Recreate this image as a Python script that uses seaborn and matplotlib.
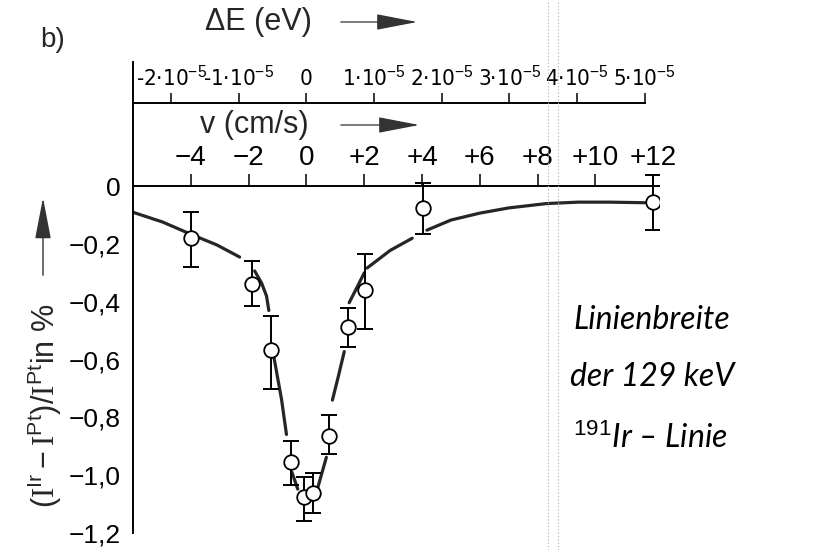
import numpy as np
import pandas as pd
import matplotlib
matplotlib.use("Agg")
import matplotlib.pyplot as plt
from matplotlib.patches import FancyArrowPatch
from matplotlib.lines import Line2D
import seaborn as sns

# Measured points: source velocity (cm/s) and relative intensity change (%)
velocity = [-4.0, -1.88, -1.22, -0.53, -0.08, 0.23, 0.79, 1.44, 2.03, 4.04, 12.0]
rel_change = [-0.18, -0.339, -0.567, -0.954, -1.075, -1.061, -0.864, -0.488, -0.36, -0.076, -0.055]
err_top = [-0.09, -0.259, -0.45, -0.882, -1.006, -0.992, -0.792, -0.422, -0.235, 0.01, 0.038]
err_bottom = [-0.28, -0.415, -0.702, -1.034, -1.158, -1.13, -0.927, -0.557, -0.494, -0.166, -0.152]

# Drawn line shape, broken into pieces around the data points
curve_seg = [0, 0, 0, 0, 0,
             1, 1, 1, 1,
             2, 2, 2,
             3, 3,
             4, 4,
             5, 5, 5,
             6, 6, 6,
             7, 7, 7,
             8, 8, 8, 8, 8, 8, 8, 8]
curve_v = [-6.0, -4.97, -3.93, -3.1, -2.31,
           -1.79, -1.55, -1.38, -1.3,
           -1.17, -0.86, -0.69,
           -0.5, -0.3,
           0.38, 0.69,
           0.9, 1.1, 1.31,
           1.48, 1.75, 2.0,
           2.1, 2.9, 3.66,
           4.17, 5.0, 6.0, 7.0, 8.3, 9.4, 10.5, 11.7]
curve_y = [-0.09, -0.124, -0.169, -0.203, -0.245,
           -0.293, -0.335, -0.38, -0.43,
           -0.566, -0.738, -0.859,
           -0.99, -1.048,
           -1.048, -0.938,
           -0.74, -0.66, -0.572,
           -0.403, -0.35, -0.30,
           -0.283, -0.222, -0.18,
           -0.152, -0.117, -0.093, -0.075, -0.06, -0.055, -0.055, -0.057]

# Axis ticks
v_ticks = [-4, -2, 0, 2, 4, 6, 8, 10, 12]
v_labels = ["\u22124", "\u22122", "0", "+2", "+4", "+6", "+8", "+10", "+12"]
y_ticks = [0, -0.2, -0.4, -0.6, -0.8, -1.0, -1.2]
y_labels = ["0", "\u22120,2", "\u22120,4", "\u22120,6", "\u22120,8", "\u22121,0", "\u22121,2"]
e_ticks = [-2, -1, 0, 1, 2, 3, 4, 5]          # in units of 10^-5 eV
e_labels = ["-2\u00b710$^{-5}$", "-1\u00b710$^{-5}$", "0", "1\u00b710$^{-5}$",
            "2\u00b710$^{-5}$", "3\u00b710$^{-5}$", "4\u00b710$^{-5}$", "5\u00b710$^{-5}$"]
VEL_PER_UNIT_E = 2.34                           # cm/s per 10^-5 eV

sns.set_theme(style="white")
FONT = ["Liberation Sans", "DejaVu Sans"]
plt.rcParams["font.family"] = FONT
plt.rcParams["mathtext.fontset"] = "custom"
plt.rcParams["mathtext.rm"] = "Liberation Sans"
plt.rcParams["mathtext.sf"] = "Liberation Sans"
plt.rcParams["mathtext.it"] = "Liberation Sans"
plt.rcParams["mathtext.tt"] = "Liberation Serif"

W, H = 814, 550
fig = plt.figure(figsize=(W / 100, H / 100), dpi=100)
fig.patch.set_facecolor("white")


def fx(px):
    return px / W


def fy(py):
    return 1 - py / H


ax = fig.add_axes([fx(133), 17 / H, 526 / W, 471 / H])
ax.set_facecolor("white")

df_curve = pd.DataFrame({"v": curve_v, "y": curve_y, "seg": curve_seg})
sns.lineplot(data=df_curve, x="v", y="y", units="seg", estimator=None,
             color="#262626", linewidth=2.3, ax=ax, legend=False)

pts = pd.DataFrame({"v": velocity, "y": rel_change})
yerr = [np.array(rel_change) - np.array(err_bottom), np.array(err_top) - np.array(rel_change)]
ax.errorbar(velocity, rel_change, yerr=yerr, fmt="none", ecolor="black",
            elinewidth=1.4, capsize=5.5, capthick=1.4, zorder=3)
sns.scatterplot(data=pts, x="v", y="y", marker="o", s=110, facecolor="white",
                edgecolor="black", linewidth=1.3, ax=ax, zorder=4)

ax.set_xlim(-6, 12.2)
ax.set_ylim(-1.2, 0.43)
ax.set_xlabel("")
ax.set_ylabel("")

for s in ("right", "bottom"):
    ax.spines[s].set_visible(False)
for s in ("top", "left"):
    ax.spines[s].set_color("black")
    ax.spines[s].set_linewidth(1.4)
ax.spines["top"].set_position(("data", 0))

ax.xaxis.set_ticks_position("top")
ax.set_xticks(v_ticks, v_labels)
ax.tick_params(axis="x", direction="out", length=9, width=1.1, pad=2,
               labelsize=20, colors="black")
ax.set_yticks(y_ticks, y_labels)
ax.tick_params(axis="y", direction="in", length=11, width=1.1, pad=9,
               labelsize=19, colors="black")

secax = ax.secondary_xaxis(0.913, functions=(lambda v: v / VEL_PER_UNIT_E,
                                             lambda e: e * VEL_PER_UNIT_E))
secax.set_xticks(e_ticks, e_labels)
secax.tick_params(direction="out", length=7, width=1.1, pad=3, labelsize=16,
                  colors="black")
for lab in secax.get_xticklabels():
    lab.set_fontstretch("condensed")
    lab.set_family(["DejaVu Sans"])
secax.spines["top"].set_color("black")
secax.spines["top"].set_linewidth(1.4)
secax.spines["top"].set_bounds(-6 / VEL_PER_UNIT_E, 5)

# Titles of the two velocity / energy scales with their arrows
fig.text(fx(40), fy(40), "b)", fontsize=20, va="center", ha="left")
fig.text(fx(205), fy(22), "\u0394E (eV)", fontsize=22, va="center", ha="left")
fig.text(fx(200), fy(125), "v (cm/s)", fontsize=22, va="center", ha="left")
for y0, x0, x1 in ((22, 338, 420), (125, 338, 422)):
    fig.add_artist(FancyArrowPatch((fx(x0), fy(y0)), (fx(x1), fy(y0)),
                                   transform=fig.transFigure,
                                   arrowstyle="-|>,head_length=1.3,head_width=0.25",
                                   mutation_scale=20, lw=0.9, color="#333333"))

ylab = r"$(\mathtt{I}^{\mathsf{Ir}}-\mathtt{I}^{\mathsf{Pt}})/\mathtt{I}^{\mathsf{Pt}}$in %"
fig.text(fx(45), fy(406), ylab, rotation=90, fontsize=22, ha="center", va="center")
fig.add_artist(FancyArrowPatch((fx(43), fy(278)), (fx(43), fy(195)),
                               transform=fig.transFigure,
                               arrowstyle="-|>,head_length=1.3,head_width=0.25",
                               mutation_scale=20, lw=1.0, color="#333333"))

# Handwritten note
note_kw = dict(fontsize=23, style="italic", family="Lato", fontweight="normal",
               color="black", va="center", ha="left")
fig.text(fx(573), fy(320), "Linienbreite", **note_kw)
fig.text(fx(570), fy(377), "der 129 keV", **note_kw)
fig.text(fx(573), fy(438), "$^{191}$Ir \u2013 Linie", **note_kw)

# Faint dotted fold marks of the page
for xp in (548, 558):
    fig.add_artist(Line2D([fx(xp), fx(xp)], [0, 1], transform=fig.transFigure,
                          color="#aaaaaa", lw=0.8, ls=(0, (1, 2))))

fig.savefig("out.png", dpi=100, facecolor="white")
